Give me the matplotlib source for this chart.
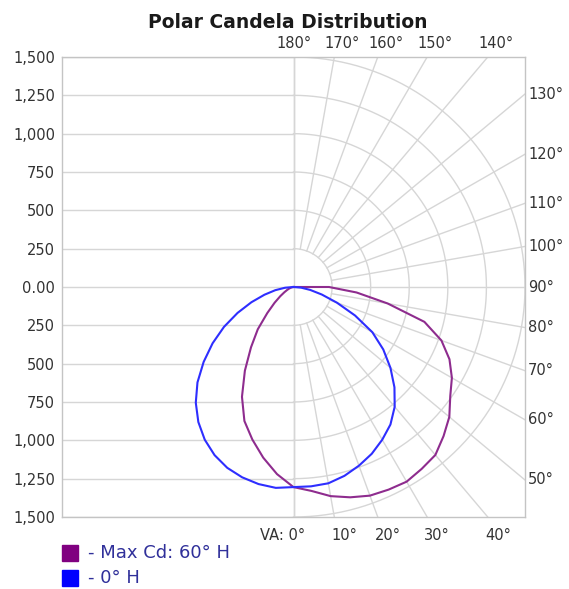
import numpy as np
import matplotlib
matplotlib.use("Agg")
import matplotlib.pyplot as plt
from matplotlib.patches import Rectangle

# ---------------- data ----------------
va = [0, 5, 10, 15, 20, 25, 30, 35, 40, 45, 50, 55, 60, 65, 70, 75, 80, 85, 90]
# 0° H plane (right half) and its opposite 180° H plane (left half)
cd_0H = [1305, 1305, 1300, 1275, 1240, 1200, 1150, 1095, 1020, 925, 820, 710, 590, 440, 300, 190, 110, 50, 0]
cd_180H = [1305, 1315, 1305, 1285, 1255, 1210, 1150, 1075, 985, 880, 760, 640, 520, 400, 290, 195, 120, 55, 0]
# Max Cd plane: 60° H (right half) and opposite 240° H (left half)
cd_60H = [1305, 1335, 1385, 1420, 1448, 1458, 1466, 1448, 1430, 1375, 1318, 1240, 1185, 1115, 1020, 878, 620, 410, 230]
cd_240H = [1305, 1225, 1130, 1030, 930, 790, 630, 480, 360, 240, 160, 105, 68, 45, 30, 18, 10, 4, 0]

radial_ticks = [-1500, -1250, -1000, -750, -500, -250, 0, 250, 500, 750, 1000, 1250, 1500]
grid_radii = [250, 500, 750, 1000, 1250, 1500]
grid_angles = list(range(0, 181, 10))
legend_labels = ["- Max Cd: 60° H", "- 0° H"]
title = "Polar Candela Distribution"

# ---------------- styles ----------------
W, H, DPI = 569, 589, 100
C_MAG = "#8e2c8e"
C_BLUE = "#2e2eff"
C_GRID = "#d6d6d6"
C_FRAME = "#c4c4c4"
C_TXT = "#333333"
RMAX = 1500

fig = plt.figure(figsize=(W / DPI, H / DPI), dpi=DPI)
ax = fig.add_axes([62 / W, 1 - 517 / H, (525 - 62) / W, (517 - 57) / H])
ax.set_xlim(-RMAX, RMAX)
ax.set_ylim(-RMAX, RMAX)

# horizontal grid (left half)
for t in radial_ticks:
    ax.plot([-RMAX, 0], [t, t], color=C_GRID, lw=1.0, zorder=1)
# vertical centre line
ax.plot([0, 0], [-RMAX, RMAX], color=C_GRID, lw=1.0, zorder=1)

# polar grid circles (right half)
tt = np.radians(np.linspace(0, 180, 181))
for r in grid_radii:
    ax.plot(r * np.sin(tt), -r * np.cos(tt), color=C_GRID, lw=1.0, zorder=1)
# radial spokes
for a in grid_angles:
    ar = np.radians(a)
    ax.plot([250 * np.sin(ar), 3 * RMAX * np.sin(ar)],
            [-250 * np.cos(ar), -3 * RMAX * np.cos(ar)],
            color=C_GRID, lw=1.0, zorder=1)


def plane_xy(right, left):
    vr = np.radians(va)
    xl = -np.array(left) * np.sin(vr)
    yl = -np.array(left) * np.cos(vr)
    xr = np.array(right) * np.sin(vr)
    yr = -np.array(right) * np.cos(vr)
    x = np.concatenate([xl[::-1], xr[1:], [0]])
    y = np.concatenate([yl[::-1], yr[1:], [0]])
    return x, y


xb, yb = plane_xy(cd_0H, cd_180H)
xm, ym = plane_xy(cd_60H, cd_240H)
ax.plot(xm, ym, color=C_MAG, lw=1.5, zorder=3, solid_joinstyle="round")
ax.plot(xb, yb, color=C_BLUE, lw=1.5, zorder=3, solid_joinstyle="round")

# axes styling
for s in ax.spines.values():
    s.set_color(C_FRAME)
    s.set_linewidth(1.0)
ax.set_xticks([])
ax.set_yticks(radial_ticks)
ax.set_yticklabels(["0.00" if v == 0 else f"{abs(v):,}" for v in radial_ticks])
ax.tick_params(axis="y", length=0, pad=5, labelsize=10.5, labelcolor=C_TXT)

# angle labels
fs = 10.5
for a in grid_angles:
    if a >= 140:
        xd = RMAX * np.tan(np.radians(180 - a))
        off = 1 if a == 180 else 8
        ax.annotate(f"{a}°", xy=(xd, RMAX), xytext=(off, 13), textcoords="offset pixels",
                    ha="center", va="center", fontsize=fs, color=C_TXT, annotation_clip=False)
    elif a >= 50:
        yd = -RMAX * np.cos(np.radians(a)) / np.sin(np.radians(a))
        ax.annotate(f"{a}°", xy=(RMAX, yd), xytext=(3, 0), textcoords="offset pixels",
                    ha="left", va="center", fontsize=fs, color=C_TXT, annotation_clip=False)
    elif a > 0:
        xd = RMAX * np.tan(np.radians(a))
        ax.annotate(f"{a}°", xy=(xd, -RMAX), xytext=(10, -18), textcoords="offset pixels",
                    ha="center", va="center", fontsize=fs, color=C_TXT, annotation_clip=False)
    else:
        ax.annotate(f"VA: {a}°", xy=(0, -RMAX), xytext=(12, -18), textcoords="offset pixels",
                    ha="right", va="center", fontsize=fs, color=C_TXT, annotation_clip=False)

# title
fig.text(288 / W, 1 - 23 / H, title, ha="center", va="center", fontsize=13.5,
         fontweight="bold", color="#1a1a1a")

# legend
for i, (lab, col) in enumerate(zip(legend_labels, ["#800080", "#0000ff"])):
    yc = 553 + 25 * i
    fig.patches.append(Rectangle((62 / W, 1 - (yc + 8) / H), 16 / W, 16 / H,
                                 transform=fig.transFigure, color=col))
    fig.text(88 / W, 1 - yc / H, lab, ha="left", va="center", fontsize=13,
             color="#30309a")

fig.savefig("out.png", dpi=DPI)
